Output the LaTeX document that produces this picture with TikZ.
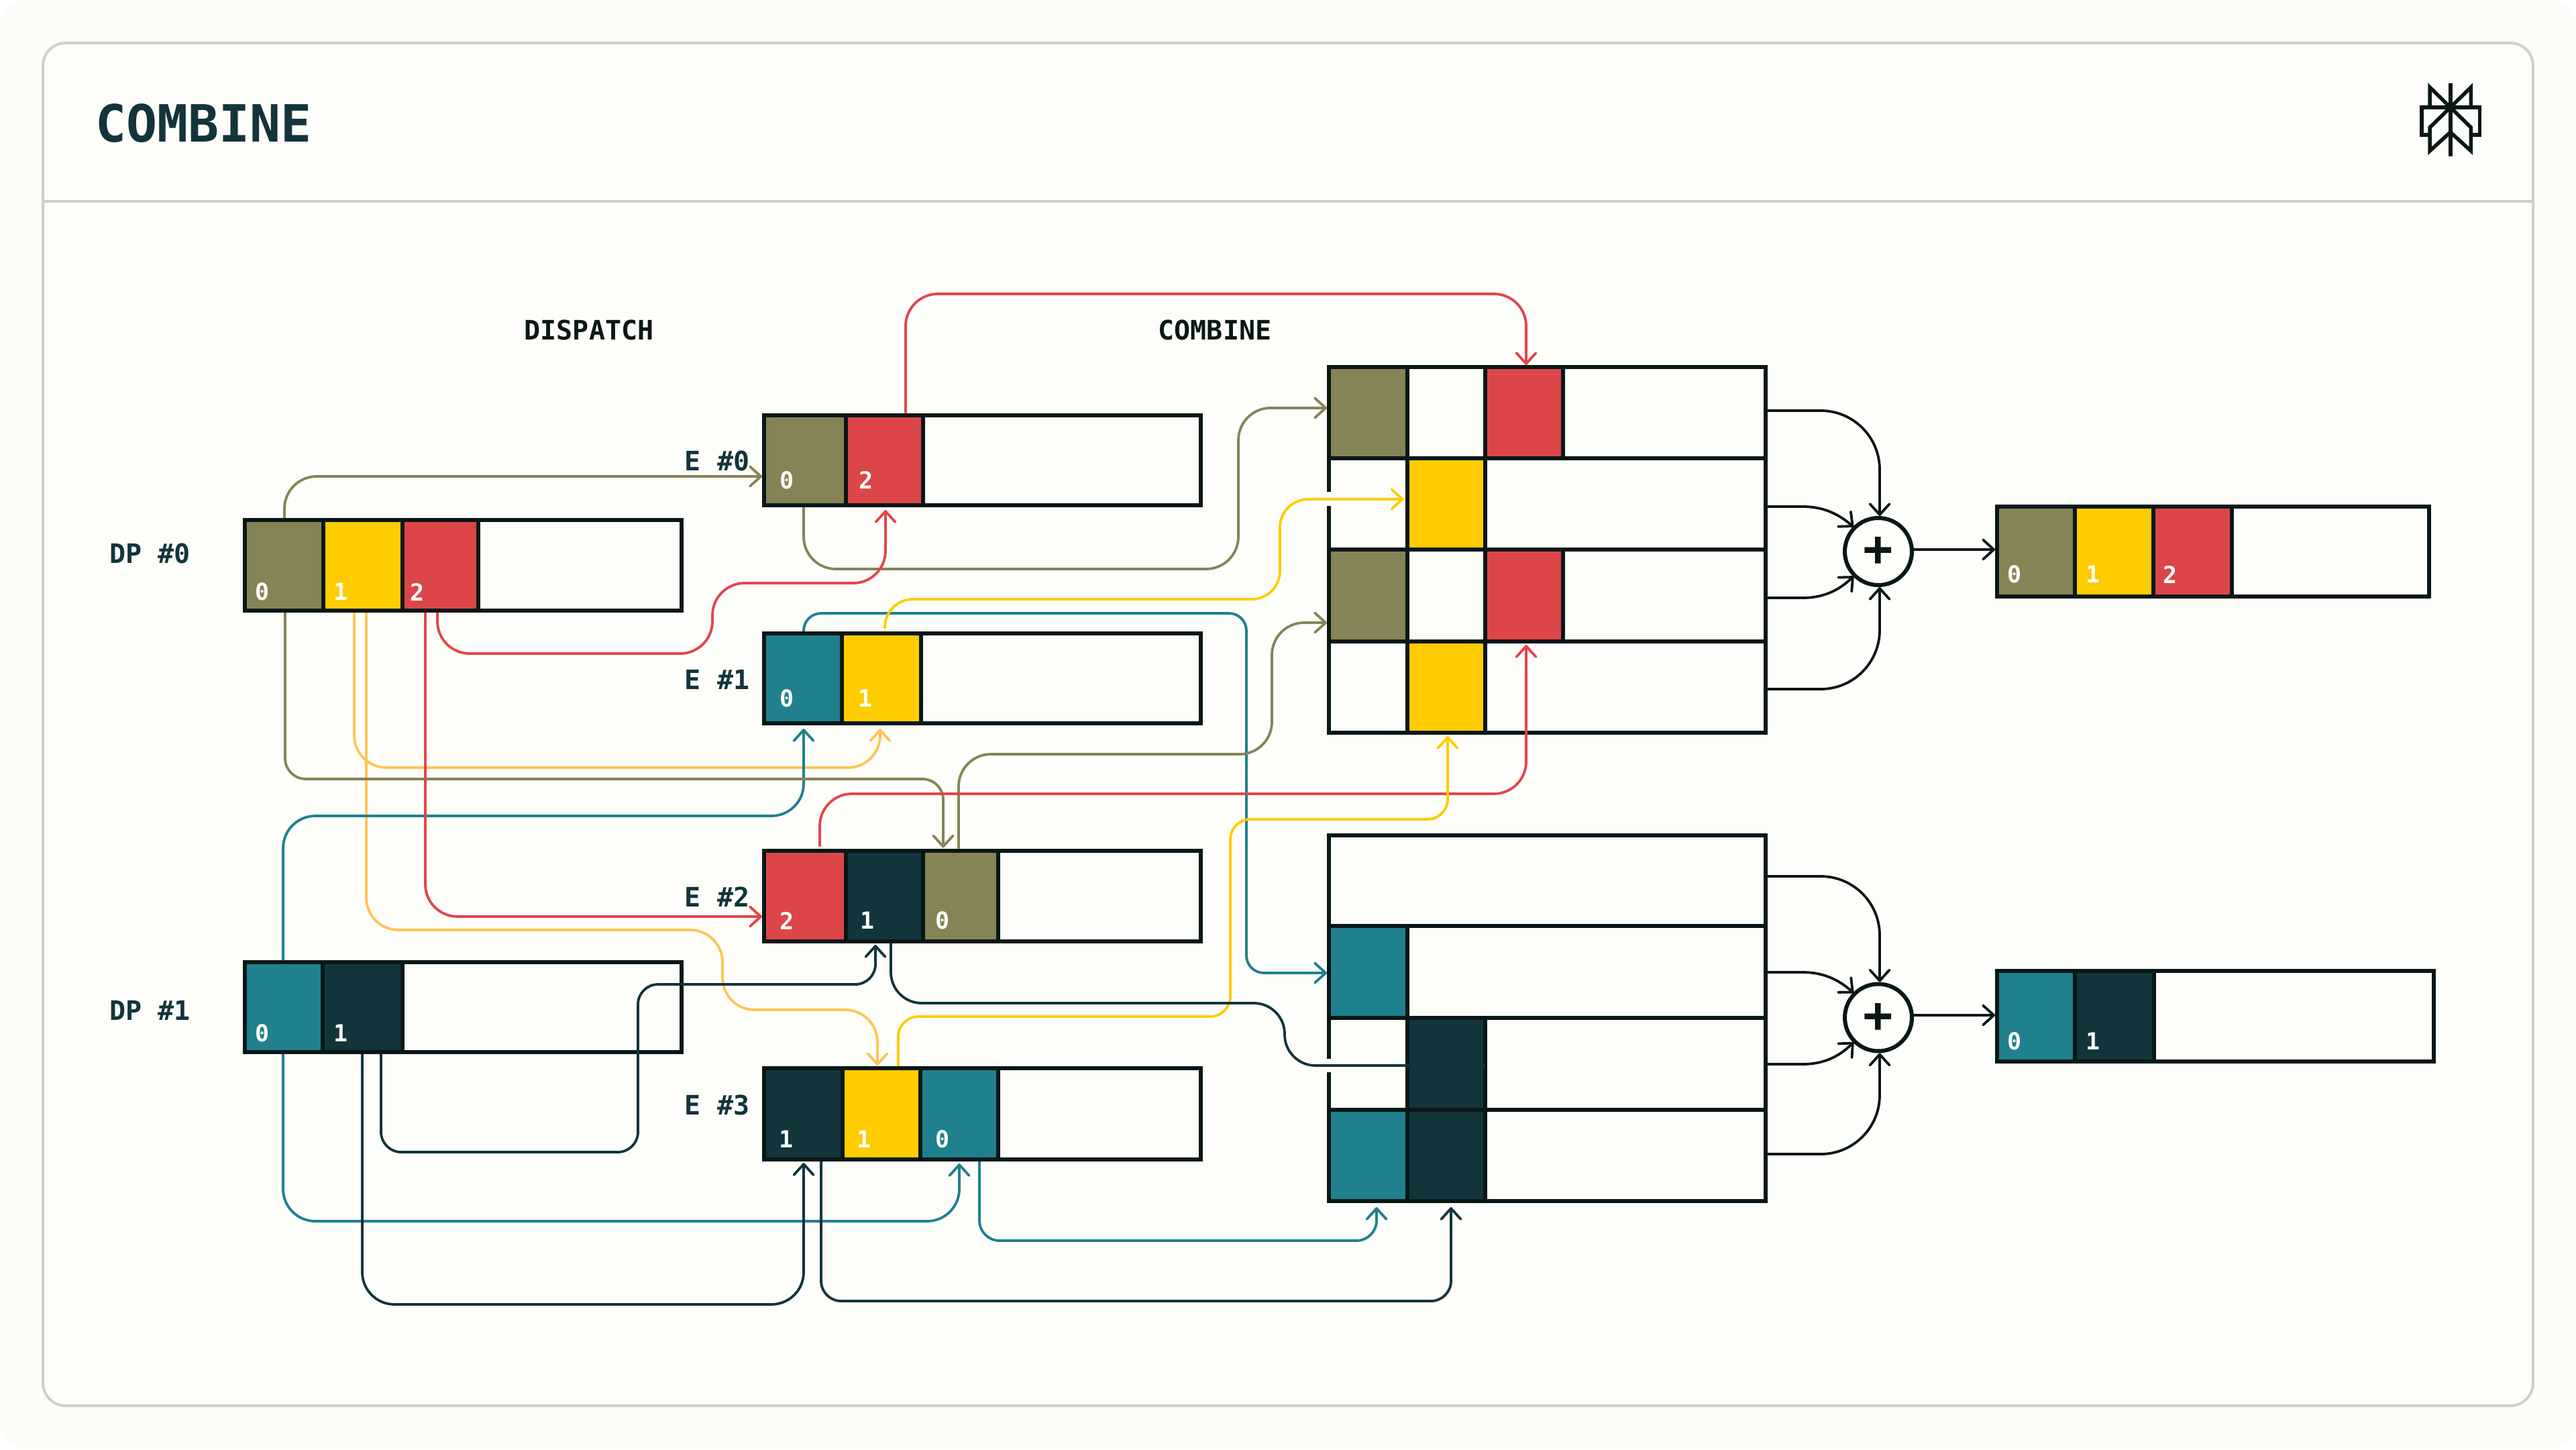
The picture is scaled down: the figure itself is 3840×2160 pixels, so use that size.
\documentclass[tikz,border=0pt]{standalone}
\usepackage{fontspec}
\usetikzlibrary{arrows.meta,calc}
\newfontfamily\monof{DejaVu Sans Mono}
\definecolor{ink}{HTML}{091717}
\definecolor{deep}{HTML}{13343B}
\definecolor{teal}{HTML}{20808D}
\definecolor{olive}{HTML}{868456}
\definecolor{gold}{HTML}{FFCC00}
\definecolor{pale}{HTML}{FFC553}
\definecolor{crimson}{HTML}{DC4649}
\definecolor{crimsonline}{HTML}{E24549}
\definecolor{paper}{HTML}{FDFDFA}
\definecolor{outerpaper}{HTML}{FCFCF9}
\definecolor{edge}{HTML}{CFD0C8}
\newcommand{\cellbox}[6]{\node[slot,fill=#6,minimum width={#4-#2},minimum height={#5-#3}] (#1) at ({(#2+#4)/2},{(#3+#5)/2}) {};}
\newcommand{\dig}[4]{\node[digit] (#1) at (#2,#3) {#4};}
\tikzset{
  slot/.style={draw=ink,line width=6pt,inner sep=0pt,outer sep=0pt,rectangle},
  digit/.style={text=white,inner sep=0pt,font=\monof\bfseries\fontsize{35}{35}\selectfont},
  tag/.style={text=deep,inner sep=0pt,font=\monof\bfseries\fontsize{40}{40}\selectfont},
  head/.style={text=ink,inner sep=0pt,font=\monof\bfseries\fontsize{40}{40}\selectfont},
  link/.style={line width=3.8pt,rounded corners=48pt,shorten <=3pt,shorten >=3pt,-{Straight Barb[length=16pt,width=29pt,round]}},
  sumlink/.style={link,draw=ink,rounded corners=88pt,shorten <=0pt},
  sumcurve/.style={link,draw=ink,sharp corners,shorten <=0pt,shorten >=2pt},
  sumnode/.style={circle,draw=ink,fill=paper,line width=6pt,minimum size=100pt,inner sep=0pt,outer sep=0pt,text=ink,font=\monof\bfseries\fontsize{74}{74}\selectfont},
  logo/.style={draw=ink,line width=5.5pt,miter limit=10}
}
\begin{document}
\begin{tikzpicture}[x=1pt,y=-1pt]
\useasboundingbox (0,0) rectangle (3840,2160);
\fill[white] (0,0) rectangle (3840,2160);
\fill[outerpaper,rounded corners=40pt] (0,0) rectangle (3840,2160);
\draw[edge,line width=4pt,fill=paper,rounded corners=34pt] (64,64) rectangle (3776,2095);
\draw[edge,line width=4pt] (64,300) -- (3776,300);
\node[text=deep,inner sep=0pt,font=\monof\bfseries\fontsize{76.5}{76.5}\selectfont] (title) at (303.5,184) {COMBINE};
% logo
\draw[logo] (3622,160) -- (3622,130) -- (3652.7,160) -- (3683.4,130) -- (3683.4,160);
\draw[logo] (3622,201) -- (3609.7,201) -- (3609.7,160) -- (3696.3,160) -- (3696.3,201) -- (3683.4,201);
\draw[logo] (3652.7,160) -- (3622,190) -- (3622,225) -- (3652.7,197) -- (3683.4,225) -- (3683.4,190) -- cycle;
\draw[logo] (3652.7,124) -- (3652.7,233);
% headings and tags
\node[head] (hdisp) at (878,492) {DISPATCH};
\node[head] (hcomb) at (1811,492) {COMBINE};
\node[tag] (tdp0) at (223.5,825) {DP \#0};
\node[tag] (tdp1) at (223.5,1506) {DP \#1};
\node[tag] (te0) at (1069,687) {E \#0};
\node[tag] (te1) at (1069,1013) {E \#1};
\node[tag] (te2) at (1069,1337) {E \#2};
\node[tag] (te3) at (1069,1647) {E \#3};
% DP 0
\cellbox{dp0}{365}{775}{1016}{910}{paper}
\cellbox{dp0a}{365}{775}{481.5}{910}{olive}
\cellbox{dp0b}{481.5}{775}{599.5}{910}{gold}
\cellbox{dp0c}{599.5}{775}{713}{910}{crimson}
% DP 1
\cellbox{dp1}{365}{1434}{1016}{1568}{paper}
\cellbox{dp1a}{365}{1434}{481}{1568}{teal}
\cellbox{dp1b}{481}{1434}{600}{1568}{deep}
% E 0
\cellbox{e0}{1139}{618.5}{1790}{753}{paper}
\cellbox{e0a}{1139}{618.5}{1261}{753}{olive}
\cellbox{e0b}{1261}{618.5}{1375.5}{753}{crimson}
% E 1
\cellbox{e1}{1139}{944}{1790}{1078}{paper}
\cellbox{e1a}{1139}{944}{1255}{1078}{teal}
\cellbox{e1b}{1255}{944}{1373}{1078}{gold}
% E 2
\cellbox{e2}{1139}{1267.5}{1790}{1403}{paper}
\cellbox{e2a}{1139}{1267.5}{1261}{1403}{crimson}
\cellbox{e2b}{1261}{1267.5}{1376}{1403}{deep}
\cellbox{e2c}{1376}{1267.5}{1488}{1403}{olive}
% E 3
\cellbox{e3}{1139}{1592}{1790}{1728}{paper}
\cellbox{e3a}{1139}{1592}{1256}{1728}{deep}
\cellbox{e3b}{1256}{1592}{1372}{1728}{gold}
\cellbox{e3c}{1372}{1592}{1488}{1728}{teal}
% Combine box 1
\cellbox{ka0}{1981}{547}{2632}{683}{paper}
\cellbox{ka1}{1981}{683}{2632}{819}{paper}
\cellbox{ka2}{1981}{819}{2632}{956}{paper}
\cellbox{ka3}{1981}{956}{2632}{1092}{paper}
\cellbox{ka0a}{1981}{547}{2097.5}{683}{olive}
\cellbox{ka0c}{2214}{547}{2330}{683}{crimson}
\cellbox{ka1b}{2097.5}{683}{2214}{819}{gold}
\cellbox{ka2a}{1981}{819}{2097.5}{956}{olive}
\cellbox{ka2c}{2214}{819}{2330}{956}{crimson}
\cellbox{ka3b}{2097.5}{956}{2214}{1092}{gold}
% Combine box 2
\cellbox{kb0}{1981}{1244.5}{2632}{1380}{paper}
\cellbox{kb1}{1981}{1380}{2632}{1517}{paper}
\cellbox{kb2}{1981}{1517}{2632}{1653.5}{paper}
\cellbox{kb3}{1981}{1653.5}{2632}{1790}{paper}
\cellbox{kb1a}{1981}{1380}{2097.5}{1517}{teal}
\cellbox{kb2b}{2097.5}{1517}{2214}{1653.5}{deep}
\cellbox{kb3a}{1981}{1653.5}{2097.5}{1790}{teal}
\cellbox{kb3b}{2097.5}{1653.5}{2214}{1790}{deep}
% gaps in the left borders
\fill[paper] (1976,733) rectangle (1986,754);
\fill[paper] (1976,1578) rectangle (1986,1598);
% Outputs
\cellbox{o1}{2977}{755}{3621}{889}{paper}
\cellbox{o1a}{2977}{755}{3093}{889}{olive}
\cellbox{o1b}{3093}{755}{3210}{889}{gold}
\cellbox{o1c}{3210}{755}{3326.5}{889}{crimson}
\cellbox{o2}{2977}{1447}{3628}{1582}{paper}
\cellbox{o2a}{2977}{1447}{3093}{1582}{teal}
\cellbox{o2b}{3093}{1447}{3211}{1582}{deep}
% sums
\node[sumnode] (s1) at (2800,822) {+};
\node[sumnode] (s2) at (2800,1516.5) {+};
% digits
\dig{g1}{391}{882}{0}\dig{g2}{508}{882}{1}\dig{g3}{622}{882}{2}
\dig{g4}{391}{1540}{0}\dig{g5}{508}{1540}{1}
\dig{g6}{1173}{716}{0}\dig{g7}{1291}{716}{2}
\dig{g8}{1173}{1041}{0}\dig{g9}{1290}{1041}{1}
\dig{g10}{1173}{1372}{2}\dig{g11}{1293}{1372}{1}\dig{g12}{1405}{1372}{0}
\dig{g13}{1172}{1698}{1}\dig{g14}{1288}{1698}{1}\dig{g15}{1405}{1698}{0}
\dig{g16}{3003}{856}{0}\dig{g17}{3120}{856}{1}\dig{g18}{3235}{856}{2}
\dig{g19}{3003}{1552}{0}\dig{g20}{3120}{1552}{1}
% pale links
\draw[link,pale,shorten >=8pt] (dp0b.south -| 528,0) -- (528,1144) -- (1312,1144) -- (e1b.south -| 1312,0);
\draw[link,pale,shorten >=4pt] (dp0b.south -| 546,0) -- (546,1386) -- (1077,1386) -- (1077,1505) -- (1308,1505) -- (e3b.north -| 1308,0);
% teal links
\draw[link,teal,rounded corners=26pt] (e1a.north -| 1198,0) -- (1198,914) -- (1858,914) -- (1858,1450) -- (kb1a.west |- 0,1450);
\draw[link,teal,shorten >=8pt] (dp1a.north -| 422,0) -- (422,1216) -- (1198,1216) -- (e1a.south -| 1198,0);
\draw[link,teal,shorten >=6pt] (dp1a.south -| 422,0) -- (422,1820) -- (1430,1820) -- (e3c.south -| 1430,0);
\draw[link,teal,rounded corners=30pt,shorten >=9pt] (e3c.south -| 1460,0) -- (1460,1849) -- (2052,1849) -- (kb3a.south -| 2052,0);
% olive links
\draw[link,olive] (dp0a.north -| 424,0) -- (424,710) -- (e0a.west |- 0,710);
\draw[link,olive,rounded corners=31pt,shorten >=4pt] (dp0a.south -| 425,0) -- (425,1161) -- (1406,1161) -- (e2c.north -| 1406,0);
\draw[link,olive] (e0a.south -| 1198,0) -- (1198,848) -- (1846,848) -- (1846,608) -- (ka0a.west |- 0,608);
\draw[link,olive] (e2c.north -| 1429,0) -- (1429,1124) -- (1896,1124) -- (1896,928) -- (ka2a.west |- 0,928);
% red links
\draw[link,crimsonline,shorten >=7pt] (dp0c.south -| 652,0) -- (652,974) -- (1062,974) -- (1062,869) -- (1320,869) -- (e0b.south -| 1320,0);
\draw[link,crimsonline] (dp0c.south -| 634,0) -- (634,1366) -- (e2a.west |- 0,1366);
\draw[link,crimsonline] (e0b.north -| 1350,0) -- (1350,438) -- (2275,438) -- (ka0c.north -| 2275,0);
\draw[link,crimsonline,shorten >=5pt,shorten <=6pt] (e2a.north -| 1222,0) -- (1222,1183) -- (2275,1183) -- (ka2c.south -| 2275,0);
% gold links
\draw[link,gold,rounded corners=42pt,shorten >=5pt,shorten <=7pt] (e1b.north -| 1319,0) -- (1319,893) -- (1908,893) -- (1908,744) -- (ka1b.west |- 0,744);
\draw[link,gold,rounded corners=30pt,shorten >=5pt] (e3b.north -| 1339,0) -- (1339,1515) -- (1834,1515) -- (1834,1221) -- (2158,1221) -- (ka3b.south -| 2158,0);
% deep links
\draw[link,deep,rounded corners=30pt,shorten >=5pt] (dp1b.south -| 568,0) -- (568,1717) -- (951,1717) -- (951,1467) -- (1305,1467) -- (e2b.south -| 1305,0);
\draw[link,deep,shorten >=5pt] (dp1b.south -| 540,0) -- (540,1944) -- (1198,1944) -- (e3a.south -| 1198,0);
\draw[link,deep,rounded corners=46pt,shorten >=0pt] (e2b.south -| 1328,0) -- (1328,1495) -- (1915,1495) -- (1915,1588) -- (kb2b.east |- 0,1588);
\draw[link,deep,rounded corners=30pt,shorten >=9pt] (e3a.south -| 1224,0) -- (1224,1939) -- (2163,1939) -- (kb3b.south -| 2163,0);
% into the first sum
\draw[sumlink] (ka0.east |- 0,612) -- (2802,612) -- (s1.north -| 2802,0);
\draw[sumlink] (ka3.east |- 0,1027) -- (2802,1027) -- (s1.south -| 2802,0);
\draw[sumcurve] (ka1.east |- 0,755) -- (2687,755) .. controls (2722,755) and (2744,769) .. (s1.135);
\draw[sumcurve] (ka2.east |- 0,891) -- (2687,891) .. controls (2722,891) and (2744,877) .. (s1.225);
\draw[sumlink] (s1.east |- 0,819) -- (o1.west |- 0,819);
% into the second sum
\draw[sumlink] (kb0.east |- 0,1306) -- (2802,1306) -- (s2.north -| 2802,0);
\draw[sumlink] (kb3.east |- 0,1720) -- (2802,1720) -- (s2.south -| 2802,0);
\draw[sumcurve] (kb1.east |- 0,1449) -- (2687,1449) .. controls (2722,1449) and (2744,1463) .. (s2.135);
\draw[sumcurve] (kb2.east |- 0,1586) -- (2687,1586) .. controls (2722,1586) and (2744,1572) .. (s2.225);
\draw[sumlink] (s2.east |- 0,1513) -- (o2.west |- 0,1513);
\end{tikzpicture}
\end{document}
